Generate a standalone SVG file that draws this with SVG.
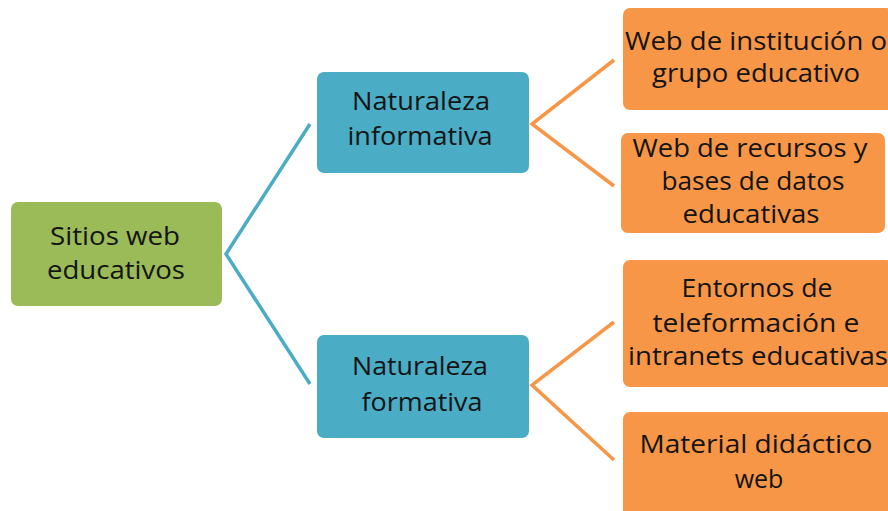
<svg xmlns="http://www.w3.org/2000/svg" width="888" height="511" viewBox="0 0 888 511">
<style>
.t{font-family:"Open Sans","Liberation Sans",sans-serif;font-size:25px;fill:#141414;text-anchor:middle}
.g{fill:#9BBB59}
.b{fill:#4BACC6}
.o{fill:#F79646}
.cb{stroke:#4BACC6;stroke-width:3.5;fill:none;stroke-linejoin:miter}
.co{stroke:#F79646;stroke-width:3.5;fill:none;stroke-linejoin:miter}
</style>
<rect width="888" height="511" fill="#ffffff"/>
<g id="connectors">
<polyline class="cb" points="310,124 226,254 310,384"/>
<polyline class="co" points="614,60 532,124 614,186"/>
<polyline class="co" points="614,322 532,385 614,460"/>
</g>
<g id="root">
<rect class="g" x="11" y="202" width="211" height="104" rx="7"/>
<text class="t" x="115" y="245" textLength="130" lengthAdjust="spacingAndGlyphs">Sitios web</text>
<text class="t" x="116" y="279" textLength="138" lengthAdjust="spacingAndGlyphs">educativos</text>
</g>
<g id="informativa">
<rect class="b" x="317" y="72" width="212" height="101" rx="7"/>
<text class="t" x="421" y="110" textLength="138" lengthAdjust="spacingAndGlyphs">Naturaleza</text>
<text class="t" x="420" y="145" textLength="145" lengthAdjust="spacingAndGlyphs">informativa</text>
</g>
<g id="formativa">
<rect class="b" x="317" y="335" width="212" height="103" rx="7"/>
<text class="t" x="420" y="375" textLength="136" lengthAdjust="spacingAndGlyphs">Naturaleza</text>
<text class="t" x="422" y="411" textLength="121" lengthAdjust="spacingAndGlyphs">formativa</text>
</g>
<g id="institucion">
<rect class="o" x="623" y="8" width="270" height="102" rx="7"/>
<text class="t" x="756" y="50" textLength="262" lengthAdjust="spacingAndGlyphs">Web de institución o</text>
<text class="t" x="756" y="82" textLength="208" lengthAdjust="spacingAndGlyphs">grupo educativo</text>
</g>
<g id="recursos">
<rect class="o" x="621" y="133" width="264" height="100" rx="7"/>
<text class="t" x="750" y="157" textLength="235" lengthAdjust="spacingAndGlyphs">Web de recursos y</text>
<text class="t" x="753" y="190" textLength="183" lengthAdjust="spacingAndGlyphs">bases de datos</text>
<text class="t" x="751" y="223" textLength="137" lengthAdjust="spacingAndGlyphs">educativas</text>
</g>
<g id="entornos">
<rect class="o" x="623" y="260" width="270" height="127" rx="7"/>
<text class="t" x="757" y="297" textLength="151" lengthAdjust="spacingAndGlyphs">Entornos de</text>
<text class="t" x="756" y="332" textLength="207" lengthAdjust="spacingAndGlyphs">teleformación e</text>
<text class="t" x="758" y="365" textLength="260" lengthAdjust="spacingAndGlyphs">intranets educativas</text>
</g>
<g id="material">
<rect class="o" x="623" y="412" width="270" height="110" rx="7"/>
<text class="t" x="756" y="453" textLength="233" lengthAdjust="spacingAndGlyphs">Material didáctico</text>
<text class="t" x="759" y="488">web</text>
</g>
</svg>
